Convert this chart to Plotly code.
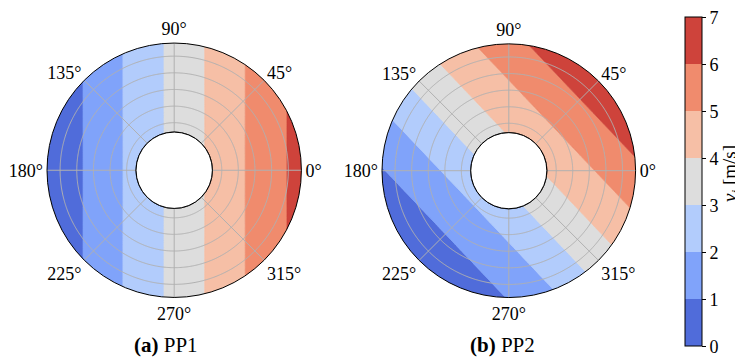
import numpy as np
import plotly.graph_objects as go

# ---------------- data ----------------
levels = [0, 1, 2, 3, 4, 5, 6, 7]
band_colors = ["rgb(80,108,218)", "rgb(128,163,250)", "rgb(178,204,252)",
               "rgb(221,221,221)", "rgb(246,191,166)", "rgb(240,139,109)",
               "rgb(206,67,59)"]
angle_ticks = [0, 45, 90, 135, 180, 225, 270, 315]
angle_labels = [f"{a}°" for a in angle_ticks]
panel_tags = ["(a)", "(b)"]
panel_names = ["PP1", "PP2"]
# direction (deg) in which v_i increases, per panel
grad_dir = [0.0, 43.5]
# signed distance (fraction of outer radius, along grad_dir) where v_i = 1..6
crossings_pp1 = [-0.717, -0.403, -0.080, 0.240, 0.559, 0.887]
crossings_pp2 = [-0.707, -0.390, -0.109, 0.187, 0.492, 0.797]
hole = 0.3
ring_r = [0.374, 0.504, 0.635, 0.766, 0.897]

SERIF = "Liberation Serif"
GRID = "#b0b0b0"


def band_polygons(ulo, uhi, phi_deg, h):
    phi = np.radians(phi_deg)
    base = list(np.arange(0, 360, 0.25))
    extra = []
    for u in (ulo, uhi):
        if u is None:
            continue
        for rho in (h, 1.0):
            if abs(u) <= rho:
                d = np.degrees(np.arccos(u / rho))
                extra += [(phi_deg + d) % 360, (phi_deg - d) % 360]
    th = np.unique(np.round(np.array(base + extra), 9))
    c = np.cos(np.radians(th) - phi)
    lo = np.full(th.shape, h)
    hi = np.full(th.shape, 1.0)
    ok = np.ones(th.shape, bool)
    for i, ci in enumerate(c):
        if ulo is not None:
            if abs(ci) < 1e-12:
                ok[i] &= (0 >= ulo)
            elif ci > 0:
                lo[i] = max(lo[i], ulo / ci)
            else:
                hi[i] = min(hi[i], ulo / ci)
        if uhi is not None:
            if abs(ci) < 1e-12:
                ok[i] &= (0 <= uhi)
            elif ci > 0:
                hi[i] = min(hi[i], uhi / ci)
            else:
                lo[i] = max(lo[i], uhi / ci)
    ok &= lo <= hi + 1e-9
    hi = np.maximum(hi, lo)
    R, T = [], []
    n = len(th)
    if ok.all():
        R = list(hi) + [hi[0], lo[0]] + list(lo[::-1])
        T = list(th) + [th[0], th[0]] + list(th[::-1])
        return R, T
    start = int(np.argmin(ok))
    order = [(start + k) % n for k in range(n)]
    run = []
    for idx in order + [start]:
        if ok[idx]:
            run.append(idx)
        elif run:
            R += [hi[j] for j in run] + [lo[j] for j in run[::-1]] + [None]
            T += [th[j] for j in run] + [th[j] for j in run[::-1]] + [None]
            run = []
    return R, T


fig = go.Figure()
panels = [("polar", crossings_pp1, grad_dir[0]), ("polar2", crossings_pp2, grad_dir[1])]
for sub, cross, phi in panels:
    bounds = [None] + list(cross) + [None]
    for k, col in enumerate(band_colors):
        r, t = band_polygons(bounds[k], bounds[k + 1], phi, hole)
        if not r:
            continue
        fig.add_trace(go.Scatterpolar(r=r, theta=t, mode="lines", fill="toself",
                                      fillcolor=col, line=dict(color=col, width=0.8),
                                      subplot=sub, showlegend=False, hoverinfo="skip"))
    # grid drawn on top of the filled bands
    gr, gt = [], []
    circ = list(np.arange(0, 360.5, 0.5))
    for rr in ring_r:
        gr += [rr] * len(circ) + [None]
        gt += circ + [None]
    for a in angle_ticks:
        gr += [hole, 1.0, None]
        gt += [a, a, None]
    fig.add_trace(go.Scatterpolar(r=gr, theta=gt, mode="lines",
                                  line=dict(color=GRID, width=1), subplot=sub,
                                  showlegend=False, hoverinfo="skip"))
    fig.add_trace(go.Scatterpolar(r=[hole] * len(circ), theta=circ, mode="lines",
                                  line=dict(color="black", width=1), subplot=sub,
                                  showlegend=False, hoverinfo="skip"))

# colour bar
nb = len(band_colors)
cscale = []
for k, col in enumerate(band_colors):
    cscale += [[k / nb, col], [(k + 1) / nb, col]]
fig.add_trace(go.Scatterpolar(
    r=[0.5, 0.5], theta=[0, 0], mode="markers", subplot="polar",
    marker=dict(size=0.1, color=[levels[0], levels[-1]], cmin=levels[0], cmax=levels[-1],
                colorscale=cscale, showscale=True,
                colorbar=dict(x=676.7 / 743, xanchor="left", xpad=0,
                              y=1 - 9.3 / 360, yanchor="top", ypad=0,
                              len=329, lenmode="pixels", thickness=16.7,
                              thicknessmode="pixels", outlinewidth=1,
                              outlinecolor="black", ticks="outside", ticklen=4,
                              tickcolor="black", tickvals=levels,
                              ticklabeloverflow="allow",
                              tickfont=dict(family=SERIF, size=18, color="black"))),
    showlegend=False, hoverinfo="skip"))


def polar_layout(xd, yd):
    return dict(
        domain=dict(x=xd, y=yd), hole=hole, bgcolor="white",
        radialaxis=dict(range=[hole, 1.0], showgrid=False, showline=False,
                        showticklabels=False, ticks=""),
        angularaxis=dict(direction="counterclockwise", rotation=0, tickmode="array",
                         tickvals=angle_ticks, ticktext=angle_labels, showgrid=False,
                         showline=True, linecolor="black", linewidth=1, ticks="",
                         tickfont=dict(family=SERIF, size=18, color="black")))


annotations = [
    dict(x=723 / 743, y=1 - 166 / 360, xref="paper", yref="paper", textangle=-90,
         xanchor="center", yanchor="middle",
         text="<i>v<sub>i</sub></i> [m/s]", showarrow=False,
         font=dict(family=SERIF, size=19, color="black")),
]
for cx, tag, name in zip([158, 494], panel_tags, panel_names):
    annotations.append(dict(x=cx / 743, y=1 - 337 / 360, xref="paper", yref="paper",
                            xanchor="center", yanchor="middle",
                            text=f"<b>{tag}</b> {name}", showarrow=False,
                            font=dict(family=SERIF, size=21, color="black")))

fig.update_layout(
    width=743, height=360, margin=dict(l=0, r=0, t=0, b=0),
    paper_bgcolor="white", plot_bgcolor="white",
    font=dict(family=SERIF, color="black"),
    polar=polar_layout([39 / 743, 293.4 / 743], [70.5 / 360, 325 / 360]),
    polar2=polar_layout([374 / 743, 627.6 / 743], [70.5 / 360, 324.1 / 360]),
    annotations=annotations, showlegend=False,
)
fig.write_html("out.html")
